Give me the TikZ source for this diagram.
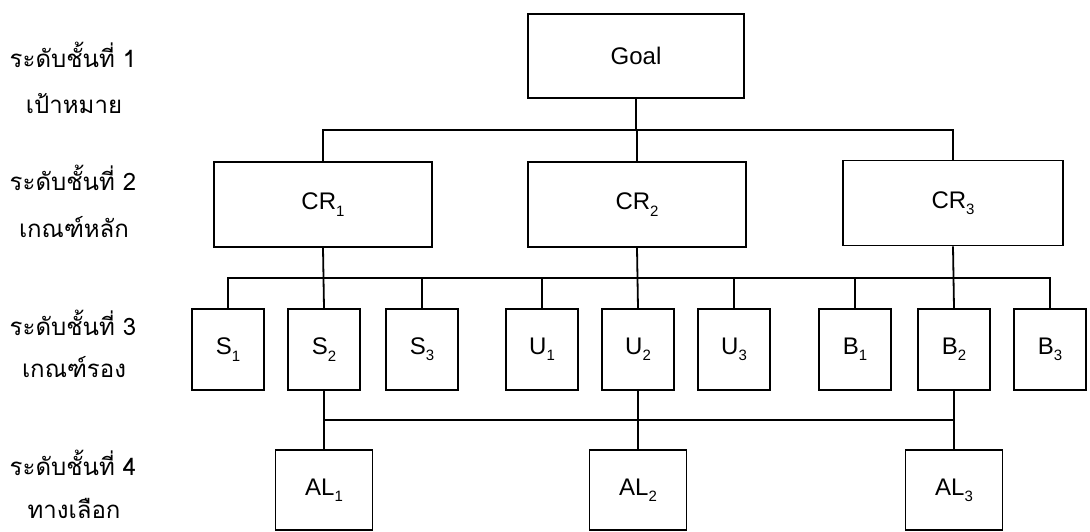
\documentclass[tikz,border=0pt]{standalone}
\usepackage{fontspec}
\setmainfont{Liberation Sans}
\newfontfamily\thaifont[Script=Thai]{Loma}
\newcommand{\subs}[1]{\raisebox{-0.5ex}{\fontsize{15}{15}\selectfont #1}}
\begin{document}
\begin{tikzpicture}[x=1pt,y=-1pt,
  box/.style={draw, line width=1.8pt, inner sep=0pt, font=\fontsize{24}{26}\selectfont},
  bigbox/.style={box, minimum width=218pt, minimum height=85pt},
  smallbox/.style={box, minimum width=72pt, minimum height=81pt},
  albox/.style={box, minimum width=97pt, minimum height=80pt},
  conn/.style={line width=1.8pt},
  lvl/.style={font=\thaifont\fontsize{24}{26}\selectfont, anchor=center, inner sep=0pt}]
\useasboundingbox (0,0) rectangle (1090,531);
% level labels
\node[lvl] (l1a) at (73,55) {ระดับชั้นที่ 1};
\node[lvl] (l1b) at (74,104) {เป้าหมาย};
\node[lvl] (l2a) at (73,178) {ระดับชั้นที่ 2};
\node[lvl] (l2b) at (74,227) {เกณฑ์หลัก};
\node[lvl] (l3a) at (73,323) {ระดับชั้นที่ 3};
\node[lvl] (l3b) at (74,367) {เกณฑ์รอง};
\node[lvl] (l4a) at (73,463) {ระดับชั้นที่ 4};
\node[lvl] (l4b) at (74,508) {ทางเลือก};
% level 1
\node[box, minimum width=216pt, minimum height=84pt] (goal) at (636,56) {Goal};
% level 2
\node[bigbox] (cr1) at (323,204.5) {CR\subs{1}};
\node[bigbox] (cr2) at (637,204.5) {CR\subs{2}};
\node[bigbox, minimum width=220pt] (cr3) at (953,203) {CR\subs{3}};
% level 3
\node[smallbox] (s1) at (228,349.5) {S\subs{1}};
\node[smallbox] (s2) at (324,349.5) {S\subs{2}};
\node[smallbox] (s3) at (422,349.5) {S\subs{3}};
\node[smallbox] (u1) at (542,349.5) {U\subs{1}};
\node[smallbox] (u2) at (638,349.5) {U\subs{2}};
\node[smallbox] (u3) at (734,349.5) {U\subs{3}};
\node[smallbox] (b1) at (855,349.5) {B\subs{1}};
\node[smallbox] (b2) at (954,349.5) {B\subs{2}};
\node[smallbox] (b3) at (1050,349.5) {B\subs{3}};
% level 4
\node[albox] (al1) at (324,490) {AL\subs{1}};
\node[albox] (al2) at (638,490) {AL\subs{2}};
\node[albox] (al3) at (954,490) {AL\subs{3}};
% bus coordinates
\coordinate (bus1) at (0,130);
\coordinate (bus2) at (0,278);
\coordinate (bus3) at (0,420);
% goal to criteria
\draw[conn] (goal.south) -- (goal.south |- bus1);
\draw[conn] (cr1.north) |- (cr3.north |- bus1) -- (cr3.north);
\draw[conn] (cr2.north) -- (cr2.north |- bus1);
% criteria to sub-criteria
\draw[conn] (s1.north) |- (b3.north |- bus2) -- (b3.north);
\draw[conn] (cr1.south) -- (s2.north);
\draw[conn] (cr2.south) -- (u2.north);
\draw[conn] (cr3.south) -- (b2.north);
\foreach \n in {s3,u1,u3,b1}
  \draw[conn] (\n.north) -- (\n.north |- bus2);
% sub-criteria to alternatives
\draw[conn] (s2.south) -- (al1.north);
\draw[conn] (u2.south) -- (al2.north);
\draw[conn] (b2.south) -- (al3.north);
\draw[conn] (al1.north |- bus3) -- (al3.north |- bus3);
\end{tikzpicture}
\end{document}
